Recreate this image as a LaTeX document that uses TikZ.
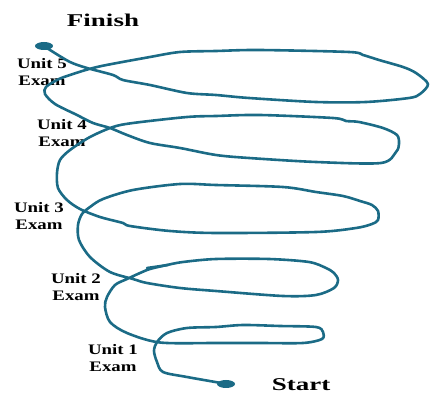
\documentclass[tikz,border=0pt]{standalone}
\usepackage{fontspec}
\setmainfont{Liberation Serif}
\newfontfamily\labelfont[FakeStretch=1.3]{Liberation Serif}
\newfontfamily\titlefont[FakeStretch=1.5]{Liberation Serif}
\usetikzlibrary{shapes.geometric}
\definecolor{spiralteal}{HTML}{1B6B86}
\tikzset{
  spiral/.style={draw=spiralteal, line width=2.6pt, line cap=round, line join=round},
  enddot/.style={ellipse, fill=spiralteal, inner sep=0pt, minimum width=18pt, minimum height=8pt},
  unitlabel/.style={align=center, inner sep=0pt, font=\labelfont\bfseries\fontsize{14.5}{17}\selectfont},
  titlelabel/.style={inner sep=0pt, font=\titlefont\bfseries\fontsize{18}{20}\selectfont}
}
\begin{document}
\begin{tikzpicture}[x=1pt,y=-1pt]
\useasboundingbox (0,0) rectangle (432,393);
\node[titlelabel] (finishlabel) at (103,20) {Finish};
\node[titlelabel] (startlabel) at (301,384.5) {Start};
\node[unitlabel] (u5) at (42,72.5) {Unit 5\\Exam};
\node[unitlabel] (u4) at (62,133.5) {Unit 4\\Exam};
\node[unitlabel] (u3) at (39,216.5) {Unit 3\\Exam};
\node[unitlabel] (u2) at (76,287.5) {Unit 2\\Exam};
\node[unitlabel] (u1) at (113,358.5) {Unit 1\\Exam};
\node[enddot] (start) at (226,384) {};
\node[enddot] (finish) at (44,46) {};
\draw[spiral] plot[smooth, tension=0.5] coordinates {
 (224,383.5) (187,377) (163,372) (157,362) (154,351) (157,342) (167,333) (187,328) (216,327)
 (243,325) (280,326) (316,327) (323,332) (322,339) (303,343) (260,343) (216,343) (160,342.5)
 (127,333) (110,322) (105,307) (107,297) (115,285) (127,279) (140,273) (150,269) (167,265)
 (183,262) (216,259) (269,259) (309,262) (326,268) (334,273) (338,280) (334,288) (316,295)
 (283,296) (216,291) (180,288) (147,283) (133,279) (110,272) (90,257) (79,240) (78,225)
 (82,214) (90,207) (103,199) (133,190) (180,184) (216,185) (283,187) (316,192) (343,196)
 (360,201) (372,205) (378,211) (378,220) (372,224) (356,228) (316,232) (216,233) (170,231)
 (130,226) (123,223) (100,217) (80,209) (67,200) (58,188) (57,173) (60,160) (70,150) (90,137)
 (113,127) (133,123) (187,117) (216,116) (260,115) (333,118) (346,121) (359,122) (383,128)
 (397,135) (399,144) (396,152) (381,163) (316,162) (249,158) (216,155) (180,148) (150,143)
 (127,135) (110,128) (93,123) (77,115) (55,104) (45,94) (46,87) (57,80) (67,76) (97,67)
 (150,57) (180,52) (216,51) (259,50) (349,52) (363,55) (379,60) (403,67) (416,73) (428,84)
 (420,94) (409,98) (366,102) (316,102) (249,98) (216,95) (187,93) (150,85) (123,80) (113,75)
 (87,68) (70,62) (50,50) (44,46)
};
\draw[spiral] (147,268) -- (168,265);
\end{tikzpicture}
\end{document}
